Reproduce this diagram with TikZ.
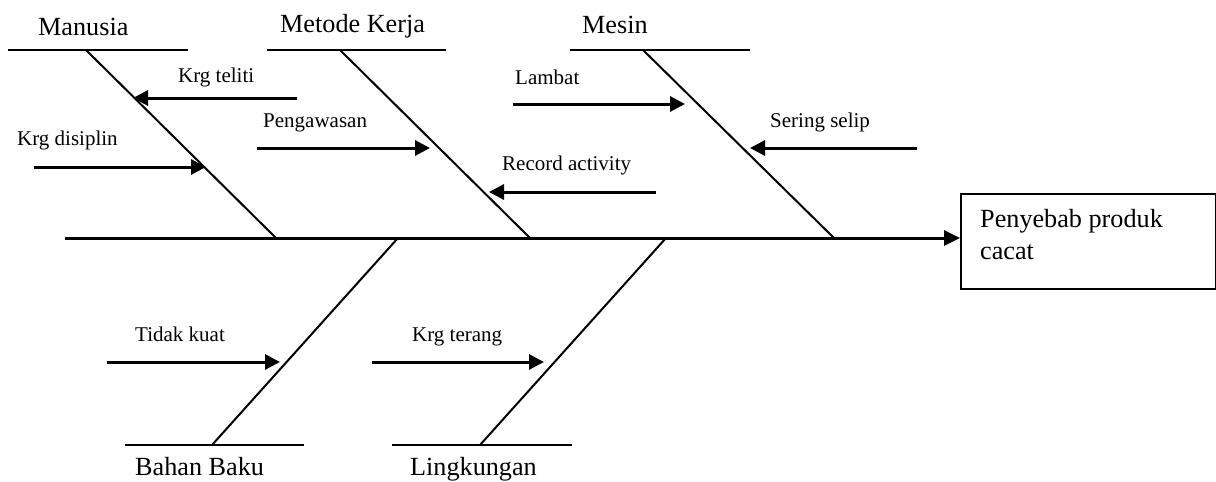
\documentclass[tikz,border=0pt]{standalone}
\usepackage{fontspec}
\setmainfont{Liberation Serif}
\usetikzlibrary{arrows.meta}
\begin{document}
\begin{tikzpicture}[x=1pt,y=-1pt,
  big/.style={anchor=base west,inner sep=0pt,font=\fontsize{26.2}{32}\selectfont},
  small/.style={anchor=base west,inner sep=0pt,font=\fontsize{21}{24}\selectfont},
  bone/.style={line width=2pt},
  head/.style={line width=2.2pt},
  spine/.style={line width=3pt,-{Triangle[length=16pt,width=15pt]}},
  cause/.style={line width=3pt,-{Triangle[length=15pt,width=15pt]}}]
\useasboundingbox (0,0) rectangle (1216,482);
% effect box
\node[draw,line width=2.2pt,minimum width=255pt,minimum height=95pt,anchor=north west,inner sep=0pt] (box) at (960,192.5) {};
\node[big] (t1) at (980,227) {Penyebab produk};
\node[big] (t2) at (980,259) {cacat};
% spine
\coordinate (s0) at (65,238);
\draw[spine] (s0) -- (box.west |- s0);
% top bones
\coordinate (m1) at (8,50); \coordinate (m2) at (188,50);
\coordinate (mt) at (86,50); \coordinate (mb) at (276,238);
\coordinate (k1) at (267,50); \coordinate (k2) at (446,50);
\coordinate (kt) at (340,50); \coordinate (kb) at (530,238);
\coordinate (e1) at (570,50); \coordinate (e2) at (750,50);
\coordinate (et) at (643,50); \coordinate (eb) at (834,238);
\draw[head] (m1) -- (m2); \draw[bone] (mt) -- (mb);
\draw[head] (k1) -- (k2); \draw[bone] (kt) -- (kb);
\draw[head] (e1) -- (e2); \draw[bone] (et) -- (eb);
\node[big] (lm) at (38,35) {Manusia};
\node[big] (lk) at (280,32) {Metode Kerja};
\node[big] (le) at (582,33) {Mesin};
% bottom bones
\coordinate (b1) at (125,445); \coordinate (b2) at (304,445);
\coordinate (bt) at (398,238); \coordinate (bb) at (212,445);
\coordinate (l1) at (392,445); \coordinate (l2) at (572,445);
\coordinate (lt) at (666,238); \coordinate (lb) at (480,445);
\draw[head] (b1) -- (b2); \draw[bone] (bt) -- (bb);
\draw[head] (l1) -- (l2); \draw[bone] (lt) -- (lb);
\node[big] (lb1) at (135,475) {Bahan Baku};
\node[big] (ll1) at (410,475) {Lingkungan};
% causes
\coordinate (a1s) at (297,98);  \coordinate (a1e) at (133,98);
\coordinate (a2s) at (34,167);  \coordinate (a2e) at (206,167);
\coordinate (a3s) at (257,148); \coordinate (a3e) at (430,148);
\coordinate (a4s) at (656,192); \coordinate (a4e) at (489,192);
\coordinate (a5s) at (513,104); \coordinate (a5e) at (685,104);
\coordinate (a6s) at (917,148); \coordinate (a6e) at (750,148);
\coordinate (a7s) at (107,362); \coordinate (a7e) at (280,362);
\coordinate (a8s) at (372,362); \coordinate (a8e) at (544,362);
\draw[cause] (a1s) -- (a1e);
\draw[cause] (a2s) -- (a2e);
\draw[cause] (a3s) -- (a3e);
\draw[cause] (a4s) -- (a4e);
\draw[cause] (a5s) -- (a5e);
\draw[cause] (a6s) -- (a6e);
\draw[cause] (a7s) -- (a7e);
\draw[cause] (a8s) -- (a8e);
\node[small] (c1) at (178,82) {Krg teliti};
\node[small] (c2) at (17,145) {Krg disiplin};
\node[small] (c3) at (263,127) {Pengawasan};
\node[small] (c4) at (502,170) {Record activity};
\node[small] (c5) at (515,84) {Lambat};
\node[small] (c6) at (770,127) {Sering selip};
\node[small] (c7) at (135,341) {Tidak kuat};
\node[small] (c8) at (412,341) {Krg terang};
\end{tikzpicture}
\end{document}
